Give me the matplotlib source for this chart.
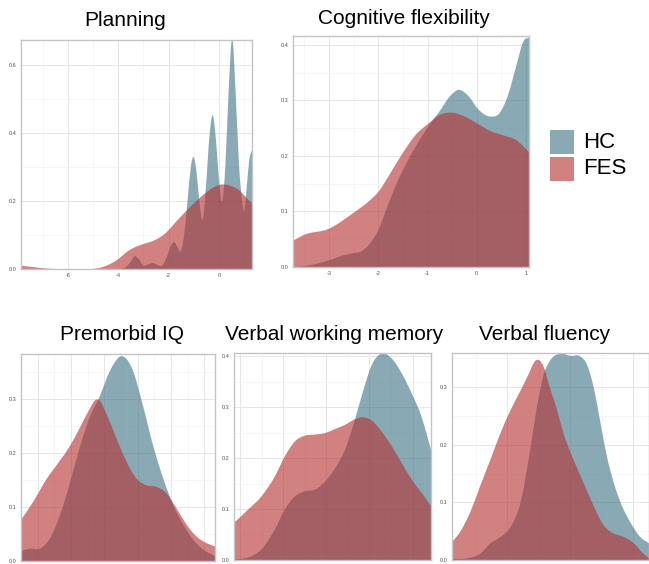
import numpy as np
import matplotlib.pyplot as plt
from matplotlib.patches import Rectangle, PathPatch
from matplotlib.path import Path

plt.rcParams['font.family'] = ['Liberation Sans', 'DejaVu Sans']

# colours of the two groups
hc_col = '#3A7185'
fes_col = '#B52E2E'
alpha = 0.6

# ---- data (density curves) ----
# Planning
plan_hc_x = [-3.9, -3.7, -3.5, -3.35, -3.2, -3.0, -2.85, -2.65, -2.45, -2.25, -2.05, -1.9,
             -1.78, -1.65, -1.52, -1.4, -1.25, -1.12, -1.01, -0.9, -0.78, -0.65, -0.52,
             -0.38, -0.25, -0.12, 0.0, 0.12, 0.25, 0.38, 0.53, 0.66, 0.8, 0.92, 1.0, 1.1,
             1.2, 1.31]
plan_hc_y = [0.0, 0.005, 0.022, 0.038, 0.03, 0.01, 0.012, 0.018, 0.012, 0.01, 0.04, 0.07,
             0.079, 0.065, 0.052, 0.09, 0.2, 0.3, 0.33, 0.29, 0.2, 0.145, 0.24,
             0.39, 0.453, 0.38, 0.26, 0.198, 0.3, 0.52, 0.68, 0.52, 0.3, 0.2, 0.171, 0.24,
             0.32, 0.35]
plan_fes_x = [-7.9, -7.4, -6.8, -6.0, -5.0, -4.6, -4.24, -3.95, -3.7, -3.45, -3.17, -2.9,
              -2.64, -2.35, -2.1, -1.85, -1.57, -1.3, -1.04, -0.75, -0.5, -0.2, 0.03,
              0.3, 0.56, 0.8, 0.96, 1.15, 1.31]
plan_fes_y = [0.01, 0.006, 0.001, 0.0, 0.0, 0.006, 0.018, 0.032, 0.048, 0.06, 0.069, 0.076,
              0.082, 0.093, 0.107, 0.127, 0.15, 0.171, 0.19, 0.21, 0.226, 0.241, 0.248,
              0.248, 0.242, 0.232, 0.22, 0.205, 0.194]

# Cognitive flexibility
cog_hc_x = [-3.73, -3.39, -3.0, -2.71, -2.5, -2.37, -2.17, -2.0, -1.83, -1.63, -1.36, -1.0,
            -0.75, -0.54, -0.37, -0.17, 0.03, 0.27, 0.47, 0.64, 0.81, 0.95, 1.06]
cog_hc_y = [0.0, 0.003, 0.012, 0.021, 0.025, 0.027, 0.042, 0.066, 0.105, 0.15, 0.198, 0.251,
            0.281, 0.308, 0.319, 0.308, 0.284, 0.271, 0.278, 0.311, 0.365, 0.407, 0.413]
cog_fes_x = [-3.73, -3.53, -3.0, -2.51, -2.17, -2.0, -1.76, -1.49, -1.22, -1.0, -0.75,
             -0.51, -0.27, 0.0, 0.27, 0.54, 0.81, 1.06]
cog_fes_y = [0.047, 0.057, 0.069, 0.097, 0.12, 0.135, 0.168, 0.207, 0.24, 0.257, 0.274,
             0.278, 0.272, 0.259, 0.245, 0.237, 0.228, 0.207]

# Premorbid IQ
iq_hc_x = [-3.5, -3.23, -2.93, -2.63, -2.33, -2.03, -1.73, -1.43, -1.13, -0.83, -0.48,
           -0.18, 0.17, 0.47, 0.77, 1.07, 1.37, 1.67, 1.97, 2.32]
iq_hc_y = [0.018, 0.023, 0.023, 0.042, 0.085, 0.145, 0.212, 0.267, 0.306, 0.352, 0.379,
           0.358, 0.285, 0.212, 0.152, 0.103, 0.067, 0.039, 0.021, 0.009]
iq_fes_x = [-3.5, -3.13, -2.73, -2.33, -2.03, -1.73, -1.48, -1.23, -1.13, -0.93, -0.63,
            -0.33, -0.03, 0.27, 0.57, 0.87, 1.17, 1.47, 1.77, 2.07, 2.32]
iq_fes_y = [0.076, 0.11, 0.152, 0.186, 0.213, 0.247, 0.277, 0.299, 0.296, 0.271, 0.226,
            0.183, 0.152, 0.14, 0.137, 0.125, 0.097, 0.067, 0.045, 0.033, 0.027]

# Verbal working memory
vwm_x = [-2.15, -1.82, -1.51, -1.2, -0.97, -0.73, -0.5, -0.27, -0.03, 0.2, 0.43, 0.66,
         0.86, 1.05, 1.28, 1.52, 1.75, 1.98, 2.21, 2.43]
vwm_hc_y = [0.001, 0.005, 0.021, 0.06, 0.099, 0.125, 0.135, 0.138, 0.154, 0.18, 0.216,
            0.275, 0.334, 0.382, 0.405, 0.395, 0.366, 0.327, 0.281, 0.216]
vwm_fes_y = [0.073, 0.099, 0.125, 0.164, 0.203, 0.233, 0.244, 0.246, 0.249, 0.257, 0.265,
             0.276, 0.28, 0.274, 0.252, 0.223, 0.19, 0.158, 0.132, 0.106]

# Verbal fluency
vf_hc_x = [-1.88, -1.64, -1.43, -1.27, -1.11, -0.95, -0.79, -0.63, -0.53, -0.42, -0.32,
           -0.16, 0.0, 0.16, 0.26, 0.37, 0.48, 0.58, 0.69, 0.82, 0.95, 1.11, 1.25]
vf_hc_y = [0.002, 0.003, 0.011, 0.029, 0.04, 0.057, 0.1, 0.197, 0.266, 0.323, 0.346,
           0.358, 0.354, 0.353, 0.34, 0.3, 0.237, 0.18, 0.134, 0.094, 0.066, 0.04, 0.029]
vf_fes_x = [-1.88, -1.75, -1.59, -1.43, -1.27, -1.11, -0.95, -0.79, -0.66, -0.56, -0.5,
            -0.42, -0.32, -0.21, -0.11, 0.05, 0.21, 0.37, 0.53, 0.69, 0.85, 1.01, 1.16, 1.25]
vf_fes_y = [0.031, 0.049, 0.083, 0.129, 0.174, 0.22, 0.26, 0.294, 0.323, 0.345, 0.347,
            0.334, 0.297, 0.26, 0.22, 0.174, 0.134, 0.094, 0.06, 0.046, 0.04, 0.029, 0.011, 0.003]

W, H = 649, 564
fig = plt.figure(figsize=(6.49, 5.64), dpi=100)


def make_ax(l, r, t, b):
    return fig.add_axes([l / W, 1 - b / H, (r - l) / W, (b - t) / H])


def style(ax, xlim, ylim, xmaj, ymaj, xmin, ymin, xlabels=True):
    ax.set_xlim(*xlim)
    ax.set_ylim(*ylim)
    ax.set_xticks(xmaj)
    ax.set_yticks(ymaj)
    ax.set_xticks(xmin, minor=True)
    ax.set_yticks(ymin, minor=True)
    ax.set_yticklabels([f'{v:.1f}' for v in ymaj])
    if xlabels:
        ax.set_xticklabels([f'{v:g}' for v in xmaj])
    else:
        ax.set_xticklabels([])
    ax.tick_params(which='both', length=0, labelsize=4, colors='#555555', pad=3)
    ax.grid(which='major', color='#e6e6e6', lw=0.7)
    ax.grid(which='minor', color='#f3f3f3', lw=0.5)
    ax.set_axisbelow(True)
    for s in ax.spines.values():
        s.set_color('#c4c4c4')
        s.set_linewidth(1.0)


def smooth_area(ax, xs, ys, color):
    # smooth outline through the read points, drawn as cubic Bezier segments
    x = np.asarray(xs, float)
    y = np.asarray(ys, float)
    m = np.gradient(y, x)
    verts = [(x[0], 0), (x[0], y[0])]
    codes = [Path.MOVETO, Path.LINETO]
    for i in range(len(x) - 1):
        h = x[i + 1] - x[i]
        verts += [(x[i] + h / 3, y[i] + m[i] * h / 3),
                  (x[i + 1] - h / 3, y[i + 1] - m[i + 1] * h / 3),
                  (x[i + 1], y[i + 1])]
        codes += [Path.CURVE4] * 3
    verts += [(x[-1], 0), (x[0], 0)]
    codes += [Path.LINETO, Path.CLOSEPOLY]
    ax.add_patch(PathPatch(Path(verts, codes), facecolor=color, alpha=alpha, lw=0))


def dens(ax, hx, hy, fx, fy):
    smooth_area(ax, hx, hy, hc_col)
    smooth_area(ax, fx, fy, fes_col)


# Planning
ax1 = make_ax(21, 252, 40, 269)
dens(ax1, plan_hc_x, plan_hc_y, plan_fes_x, plan_fes_y)
style(ax1, (-7.86, 1.31), (0, 0.674), [-6, -4, -2, 0], [0, 0.2, 0.4, 0.6],
      [-7, -5, -3, -1, 1], [0.1, 0.3, 0.5])
fig.text(125 / W, 1 - 20 / H, 'Planning', ha='center', va='center', fontsize=15)

# Cognitive flexibility
ax2 = make_ax(293, 529, 36, 267)
dens(ax2, cog_hc_x, cog_hc_y, cog_fes_x, cog_fes_y)
style(ax2, (-3.73, 1.06), (0, 0.416), [-3, -2, -1, 0, 1], [0, 0.1, 0.2, 0.3, 0.4],
      [-3.5, -2.5, -1.5, -0.5, 0.5], [0.05, 0.15, 0.25, 0.35])
fig.text(404 / W, 1 - 18 / H, 'Cognitive flexibility', ha='center', va='center', fontsize=15)

# Premorbid IQ
ax3 = make_ax(21, 215, 354, 561)
dens(ax3, iq_hc_x, iq_hc_y, iq_fes_x, iq_fes_y)
style(ax3, (-3.5, 2.32), (0, 0.383), [-3, -2, -1, 0, 1, 2], [0, 0.1, 0.2, 0.3],
      [-2.5, -1.5, -0.5, 0.5, 1.5], [0.05, 0.15, 0.25, 0.35], xlabels=False)
fig.text(122 / W, 1 - 334 / H, 'Premorbid IQ', ha='center', va='center', fontsize=15)

# Verbal working memory
ax4 = make_ax(234, 431, 353, 560)
dens(ax4, vwm_x, vwm_hc_y, vwm_x, vwm_fes_y)
style(ax4, (-2.15, 2.43), (0, 0.406), [-2, -1, 0, 1, 2], [0, 0.1, 0.2, 0.3, 0.4],
      [-1.5, -0.5, 0.5, 1.5], [0.05, 0.15, 0.25, 0.35], xlabels=False)
fig.text(334 / W, 1 - 334 / H, 'Verbal working memory', ha='center', va='center', fontsize=15)

# Verbal fluency
ax5 = make_ax(452, 649, 353, 560)
dens(ax5, vf_hc_x, vf_hc_y, vf_fes_x, vf_fes_y)
style(ax5, (-1.88, 1.25), (0, 0.359), [-1, 0, 1], [0, 0.1, 0.2, 0.3],
      [-1.5, -0.5, 0.5], [0.05, 0.15, 0.25, 0.35], xlabels=False)
fig.text(545 / W, 1 - 334 / H, 'Verbal fluency', ha='center', va='center', fontsize=15)

# legend
groups = ['HC', 'FES']
cols = [hc_col, fes_col]
for i, (g, c) in enumerate(zip(groups, cols)):
    top = 130 + i * 27
    fig.patches.append(Rectangle((550 / W, 1 - (top + 24) / H), 24 / W, 24 / H,
                                 transform=fig.transFigure, color=c, alpha=alpha, lw=0))
    fig.text(583 / W, 1 - (top + 12) / H, g, ha='left', va='center', fontsize=16)

fig.savefig('out.png', dpi=100)
